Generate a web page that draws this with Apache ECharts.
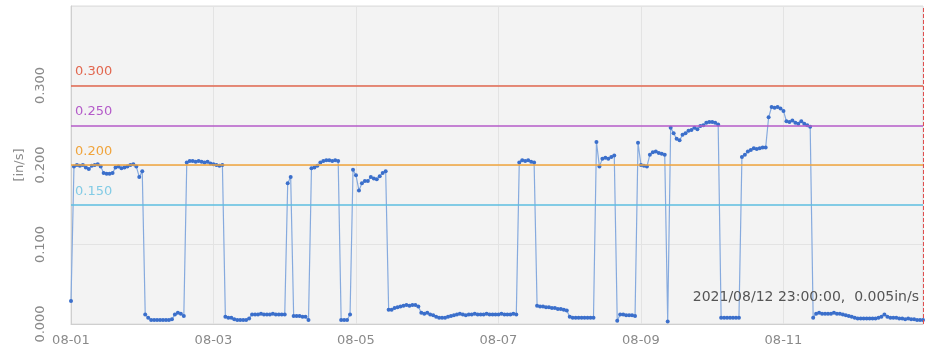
<!DOCTYPE html>
<html>
<head>
<meta charset="utf-8">
<script src="https://cdn.jsdelivr.net/npm/echarts@6/dist/echarts.min.js"></script>
<style>
  html, body { margin: 0; padding: 0; background: #ffffff; }
  #chart { width: 925px; height: 358px; }
</style>
</head>
<body>
<div id="chart"></div>
<script>
// Hourly vibration velocity readings, one array per day (00:00 .. 23:00)
const dayLabels = ['08/01', '08/02', '08/03', '08/04', '08/05', '08/06',
                   '08/07', '08/08', '08/09', '08/10', '08/11', '08/12'];
const year = '2021';

const aug01 = [0.029, 0.198, 0.200, 0.199, 0.200, 0.197, 0.195, 0.199, 0.200, 0.201, 0.198, 0.190,
               0.189, 0.189, 0.190, 0.197, 0.198, 0.196, 0.197, 0.198, 0.200, 0.201, 0.198, 0.185];
const aug02 = [0.192, 0.012, 0.008, 0.005, 0.005, 0.005, 0.005, 0.005, 0.005, 0.005, 0.006, 0.012,
               0.014, 0.013, 0.010, 0.203, 0.205, 0.205, 0.204, 0.205, 0.204, 0.203, 0.204, 0.202];
const aug03 = [0.201, 0.200, 0.199, 0.200, 0.009, 0.008, 0.008, 0.006, 0.005, 0.005, 0.005, 0.005,
               0.007, 0.012, 0.012, 0.012, 0.013, 0.012, 0.012, 0.012, 0.013, 0.012, 0.012, 0.012];
const aug04 = [0.012, 0.177, 0.185, 0.010, 0.010, 0.010, 0.009, 0.009, 0.005, 0.196, 0.197, 0.199,
               0.203, 0.205, 0.206, 0.206, 0.205, 0.206, 0.205, 0.005, 0.005, 0.005, 0.012, 0.194];
const aug05 = [0.187, 0.168, 0.177, 0.180, 0.180, 0.185, 0.183, 0.182, 0.186, 0.190, 0.192, 0.018,
               0.018, 0.020, 0.021, 0.022, 0.023, 0.024, 0.023, 0.024, 0.024, 0.022, 0.014, 0.013];
const aug06 = [0.014, 0.012, 0.011, 0.009, 0.008, 0.008, 0.008, 0.009, 0.010, 0.011, 0.012, 0.013,
               0.012, 0.011, 0.012, 0.012, 0.013, 0.012, 0.012, 0.012, 0.013, 0.012, 0.012, 0.012];
const aug07 = [0.012, 0.013, 0.012, 0.012, 0.012, 0.013, 0.012, 0.203, 0.206, 0.205, 0.206, 0.204,
               0.203, 0.023, 0.022, 0.022, 0.021, 0.021, 0.020, 0.020, 0.019, 0.019, 0.018, 0.017];
const aug08 = [0.009, 0.008, 0.008, 0.008, 0.008, 0.008, 0.008, 0.008, 0.008, 0.229, 0.198, 0.208,
               0.209, 0.208, 0.210, 0.212, 0.004, 0.012, 0.012, 0.011, 0.011, 0.011, 0.010, 0.228];
const aug09 = [0.200, 0.199, 0.198, 0.213, 0.216, 0.217, 0.215, 0.214, 0.213, 0.003, 0.247, 0.240,
               0.233, 0.231, 0.238, 0.240, 0.243, 0.244, 0.247, 0.245, 0.249, 0.250, 0.253, 0.254];
const aug10 = [0.254, 0.253, 0.251, 0.008, 0.008, 0.008, 0.008, 0.008, 0.008, 0.008, 0.210, 0.213,
               0.217, 0.219, 0.221, 0.220, 0.221, 0.222, 0.222, 0.260, 0.273, 0.272, 0.273, 0.271];
const aug11 = [0.268, 0.255, 0.254, 0.256, 0.253, 0.252, 0.255, 0.252, 0.250, 0.248, 0.008, 0.013,
               0.014, 0.013, 0.013, 0.013, 0.013, 0.014, 0.013, 0.013, 0.012, 0.011, 0.010, 0.009];
const aug12 = [0.008, 0.007, 0.007, 0.007, 0.007, 0.007, 0.007, 0.007, 0.008, 0.009, 0.012, 0.009,
               0.008, 0.008, 0.008, 0.007, 0.007, 0.006, 0.007, 0.006, 0.006, 0.005, 0.005, 0.005];

// Alarm thresholds
const thresholdValues = [0.300, 0.250, 0.200, 0.150];
const thresholdColors = ['#e2674f', '#b45bc9', '#f0a43c', '#5cbde0'];

// Y axis ticks
const yMin = 0, yMax = 0.4, yStep = 0.1;
const unit = 'in/s';

const dailySeries = [aug01, aug02, aug03, aug04, aug05, aug06, aug07, aug08, aug09, aug10, aug11, aug12];
const times = [];
const values = [];
dailySeries.forEach((day, d) => {
  day.forEach((v, h) => {
    times.push(year + '/' + dayLabels[d] + ' ' + String(h).padStart(2, '0') + ':00:00');
    values.push(v);
  });
});
const lastTime = times[times.length - 1];
const lastValue = values[values.length - 1];

const FONT = 'DejaVu Sans';
const chart = echarts.init(document.getElementById('chart'), null, { renderer: 'canvas' });

chart.setOption({
  animation: false,
  grid: {
    left: 71, right: 2, top: 6, bottom: 34,
    outerBoundsMode: 'none',
    containLabel: false,
    show: true,
    backgroundColor: '#f3f3f3',
    borderColor: '#dcdcdc',
    borderWidth: 1
  },
  xAxis: {
    type: 'category',
    data: times,
    boundaryGap: false,
    axisLine: { lineStyle: { color: '#cfcfcf' } },
    axisTick: { show: false },
    axisLabel: {
      interval: 47,
      margin: 10,
      color: '#8a8a8a',
      fontFamily: FONT,
      fontSize: 13,
      formatter: v => v.slice(5, 10).replace('/', '-')
    },
    splitLine: { show: true, interval: 47, lineStyle: { color: '#e3e3e3' } }
  },
  yAxis: {
    type: 'value',
    min: yMin, max: yMax, interval: yStep,
    name: '[' + unit + ']',
    nameLocation: 'middle',
    nameGap: 44,
    nameRotate: 90,
    nameTextStyle: { color: '#8a8a8a', fontFamily: FONT, fontSize: 13 },
    axisLine: { show: true, lineStyle: { color: '#cfcfcf' } },
    axisTick: { show: false },
    axisLabel: {
      rotate: 90,
      margin: 24,
      showMaxLabel: false,
      color: '#8a8a8a',
      fontFamily: FONT,
      fontSize: 13,
      formatter: v => v.toFixed(3)
    },
    splitLine: { show: true, lineStyle: { color: '#e3e3e3' } }
  },
  series: [{
    type: 'line',
    data: values,
    symbol: 'circle',
    symbolSize: 4,
    showSymbol: true,
    showAllSymbol: true,
    lineStyle: { color: '#86aade', width: 1.2 },
    itemStyle: { color: '#3b6fcb' },
    markLine: {
      silent: true,
      symbol: 'none',
      data: thresholdValues.map((t, i) => ({
        yAxis: t,
        lineStyle: { color: thresholdColors[i], type: 'solid', width: i === 3 ? 2 : 1.5, opacity: i === 3 ? 0.75 : 1 },
        label: {
          show: true,
          position: 'insideStartTop',
          distance: [4, 7],
          formatter: t.toFixed(3),
          color: thresholdColors[i],
          fontFamily: FONT,
          fontSize: 13
        }
      })).concat([{
        xAxis: lastTime,
        lineStyle: { color: '#e05050', type: 'dashed', width: 1 },
        label: { show: false }
      }])
    },
    markPoint: {
      silent: true,
      symbol: 'circle',
      symbolSize: 0,
      data: [{
        coord: [lastTime, lastValue],
        label: {
          show: true,
          position: 'left',
          distance: 4,
          offset: [0, -23],
          formatter: lastTime + ',  ' + lastValue.toFixed(3) + unit,
          color: '#555555',
          fontFamily: FONT,
          fontSize: 14
        }
      }]
    }
  }]
});
</script>
</body>
</html>
